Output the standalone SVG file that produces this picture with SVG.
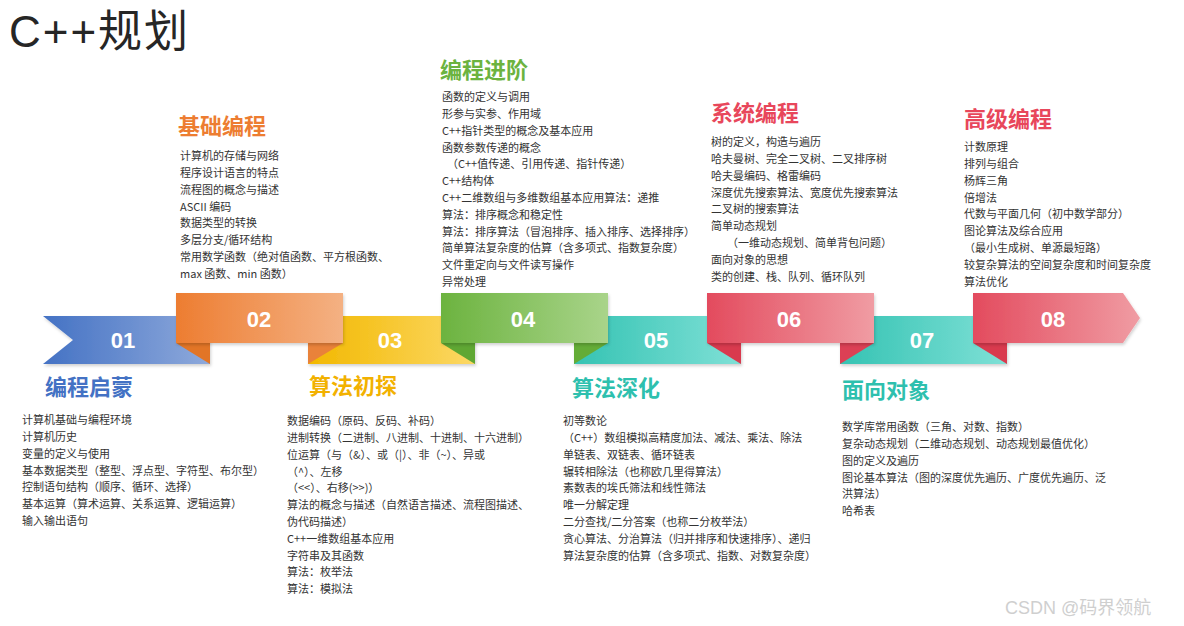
<svg xmlns="http://www.w3.org/2000/svg" width="1184" height="626" viewBox="0 0 1184 626">
<style>
.cjk{font-family:"Noto Sans CJK SC","Liberation Sans",sans-serif}
.body{font-family:"Noto Sans CJK SC","Liberation Sans",sans-serif;font-size:11px;fill:#333}
.ttl{font-family:"Noto Sans CJK SC",sans-serif;font-size:22px;font-weight:bold}
.num{font-family:"Liberation Sans","Noto Sans CJK SC",sans-serif;font-size:22px;font-weight:bold;fill:#fff;text-anchor:middle}
</style>
<defs>
<linearGradient id="gBlue" x1="0" x2="1" y1="0" y2="0"><stop offset="0" stop-color="#4472C4"/><stop offset="1" stop-color="#8EA9DB"/></linearGradient>
<linearGradient id="gOrange" x1="0" x2="1" y1="0" y2="0"><stop offset="0" stop-color="#ED7D31"/><stop offset="1" stop-color="#F4B183"/></linearGradient>
<linearGradient id="gYellow" x1="0" x2="1" y1="0" y2="0"><stop offset="0" stop-color="#F2B800"/><stop offset="1" stop-color="#FCD865"/></linearGradient>
<linearGradient id="gGreen" x1="0" x2="1" y1="0" y2="0"><stop offset="0" stop-color="#6CB33F"/><stop offset="1" stop-color="#A9D48A"/></linearGradient>
<linearGradient id="gTeal" x1="0" x2="1" y1="0" y2="0"><stop offset="0" stop-color="#35C3B3"/><stop offset="1" stop-color="#7FE0D6"/></linearGradient>
<linearGradient id="gRed" x1="0" x2="1" y1="0" y2="0"><stop offset="0" stop-color="#E34B5E"/><stop offset="1" stop-color="#F09CA3"/></linearGradient>
<filter id="sh" x="-10%" y="-20%" width="120%" height="150%"><feDropShadow dx="1" dy="2" stdDeviation="1.5" flood-color="#000" flood-opacity="0.18"/></filter>
</defs>
<rect width="1184" height="626" fill="#fff"/>
<text x="9" y="47" font-family="Liberation Sans,Noto Sans CJK SC,sans-serif" font-size="44" fill="#262626" textLength="179">C++规划</text>

<g id="connectors"></g>

<g id="stage-01">
<polygon points="43,316 210,316 210,364 43,364 73,340" fill="url(#gBlue)" filter="url(#sh)"/>
<text class="num" x="123" y="348">01</text>
<text class="ttl" x="45" y="395.4" fill="#4472C4">编程启蒙</text>
<text class="body" x="22" y="424.2"><tspan x="22">计算机基础与编程环境</tspan><tspan x="22" dy="16.8">计算机历史</tspan><tspan x="22" dy="16.8">变量的定义与使用</tspan><tspan x="22" dy="16.8">基本数据类型（整型、浮点型、字符型、布尔型）</tspan><tspan x="22" dy="16.8">控制语句结构（顺序、循环、选择）</tspan><tspan x="22" dy="16.8">基本运算（算术运算、关系运算、逻辑运算）</tspan><tspan x="22" dy="16.8">输入输出语句</tspan></text>
</g>

<g id="stage-03">
<rect x="308" y="316" width="167" height="48" fill="url(#gYellow)" filter="url(#sh)"/>
<text class="num" x="390" y="348">03</text>
<text class="ttl" x="309" y="394.4" fill="#F2B100">算法初探</text>
<text class="body" x="287" y="425.2"><tspan x="287">数据编码（原码、反码、补码）</tspan><tspan x="287" dy="16.8">进制转换（二进制、八进制、十进制、十六进制）</tspan><tspan x="287" dy="16.8">位运算（与（&amp;）、或（|）、非（~）、异或</tspan><tspan x="287" dy="16.8">（^）、左移</tspan><tspan x="287" dy="16.8">（&lt;&lt;）、右移(&gt;&gt;)）</tspan><tspan x="287" dy="16.8">算法的概念与描述（自然语言描述、流程图描述、</tspan><tspan x="287" dy="16.8">伪代码描述）</tspan><tspan x="287" dy="16.8">C++一维数组基本应用</tspan><tspan x="287" dy="16.8">字符串及其函数</tspan><tspan x="287" dy="16.8">算法：枚举法</tspan><tspan x="287" dy="16.8">算法：模拟法</tspan></text>
</g>

<g id="stage-05">
<rect x="574" y="316" width="167" height="48" fill="url(#gTeal)" filter="url(#sh)"/>
<text class="num" x="656" y="348">05</text>
<text class="ttl" x="572" y="396.4" fill="#2EC0AE">算法深化</text>
<text class="body" x="563" y="425.2"><tspan x="563">初等数论</tspan><tspan x="563" dy="16.8">（C++）数组模拟高精度加法、减法、乘法、除法</tspan><tspan x="563" dy="16.8">单链表、双链表、循环链表</tspan><tspan x="563" dy="16.8">辗转相除法（也称欧几里得算法）</tspan><tspan x="563" dy="16.8">素数表的埃氏筛法和线性筛法</tspan><tspan x="563" dy="16.8">唯一分解定理</tspan><tspan x="563" dy="16.8">二分查找/二分答案（也称二分枚举法）</tspan><tspan x="563" dy="16.8">贪心算法、分治算法（归并排序和快速排序）、递归</tspan><tspan x="563" dy="16.8">算法复杂度的估算（含多项式、指数、对数复杂度）</tspan></text>
</g>

<g id="stage-07">
<rect x="840" y="316" width="167" height="48" fill="url(#gTeal)" filter="url(#sh)"/>
<text class="num" x="922" y="348">07</text>
<text class="ttl" x="842" y="398.4" fill="#2EC0AE">面向对象</text>
<text class="body" x="842" y="431.2"><tspan x="842">数学库常用函数（三角、对数、指数）</tspan><tspan x="842" dy="16.8">复杂动态规划（二维动态规划、动态规划最值优化）</tspan><tspan x="842" dy="16.8">图的定义及遍历</tspan><tspan x="842" dy="16.8">图论基本算法（图的深度优先遍历、广度优先遍历、泛</tspan><tspan x="842" dy="16.8">洪算法）</tspan><tspan x="842" dy="16.8">哈希表</tspan></text>
</g>

<g id="stage-02">
<polygon points="176,343 210,343 210,364" fill="#E27526"/>
<polygon points="308,343 343,343 308,364" fill="#E9823A"/>
<rect x="176" y="293" width="167" height="50" fill="url(#gOrange)" filter="url(#sh)"/>
<text class="num" x="259" y="327">02</text>
<text class="ttl" x="178" y="134.4" fill="#ED7D31">基础编程</text>
<text class="body" x="180" y="160.2"><tspan x="180">计算机的存储与网络</tspan><tspan x="180" dy="16.8">程序设计语言的特点</tspan><tspan x="180" dy="16.8">流程图的概念与描述</tspan><tspan x="180" dy="16.8">ASCII 编码</tspan><tspan x="180" dy="16.8">数据类型的转换</tspan><tspan x="180" dy="16.8">多层分支/循环结构</tspan><tspan x="180" dy="16.8">常用数学函数（绝对值函数、平方根函数、</tspan><tspan x="180" dy="16.8">max 函数、min 函数）</tspan></text>
</g>

<g id="stage-04">
<polygon points="441,343 475,343 475,364" fill="#5FA733"/>
<polygon points="574,343 608,343 574,364" fill="#64AC37"/>
<rect x="441" y="293" width="167" height="50" fill="url(#gGreen)" filter="url(#sh)"/>
<text class="num" x="523" y="327">04</text>
<text class="ttl" x="440" y="78.4" fill="#6CB33F">编程进阶</text>
<text class="body" x="442" y="101.2"><tspan x="442">函数的定义与调用</tspan><tspan x="442" dy="16.8">形参与实参、作用域</tspan><tspan x="442" dy="16.8">C++指针类型的概念及基本应用</tspan><tspan x="442" dy="16.8">函数参数传递的概念</tspan><tspan x="447" dy="16.8">（C++值传递、引用传递、指针传递）</tspan><tspan x="442" dy="16.8">C++结构体</tspan><tspan x="442" dy="16.8">C++二维数组与多维数组基本应用算法：递推</tspan><tspan x="442" dy="16.8">算法：排序概念和稳定性</tspan><tspan x="442" dy="16.8">算法：排序算法（冒泡排序、插入排序、选择排序）</tspan><tspan x="442" dy="16.8">简单算法复杂度的估算（含多项式、指数复杂度）</tspan><tspan x="442" dy="16.8">文件重定向与文件读写操作</tspan><tspan x="442" dy="16.8">异常处理</tspan></text>
</g>

<g id="stage-06">
<polygon points="707,343 741,343 741,364" fill="#D93A4E"/>
<polygon points="840,343 874,343 840,364" fill="#DC4055"/>
<rect x="707" y="293" width="167" height="50" fill="url(#gRed)" filter="url(#sh)"/>
<text class="num" x="789" y="327">06</text>
<text class="ttl" x="711" y="121.4" fill="#E8475B">系统编程</text>
<text class="body" x="711" y="146.2"><tspan x="711">树的定义，构造与遍历</tspan><tspan x="711" dy="16.8">哈夫曼树、完全二叉树、二叉排序树</tspan><tspan x="711" dy="16.8">哈夫曼编码、格雷编码</tspan><tspan x="711" dy="16.8">深度优先搜索算法、宽度优先搜索算法</tspan><tspan x="711" dy="16.8">二叉树的搜索算法</tspan><tspan x="711" dy="16.8">简单动态规划</tspan><tspan x="727" dy="16.8">（一维动态规划、简单背包问题）</tspan><tspan x="711" dy="16.8">面向对象的思想</tspan><tspan x="711" dy="16.8">类的创建、栈、队列、循环队列</tspan></text>
</g>

<g id="stage-08">
<polygon points="973,343 1007,343 1007,364" fill="#D93A4E"/>
<polygon points="973,293 1123,293 1140,318 1123,343 973,343" fill="url(#gRed)" filter="url(#sh)"/>
<text class="num" x="1053" y="327">08</text>
<text class="ttl" x="964" y="127.4" fill="#E8475B">高级编程</text>
<text class="body" x="964" y="151.2"><tspan x="964">计数原理</tspan><tspan x="964" dy="16.8">排列与组合</tspan><tspan x="964" dy="16.8">杨辉三角</tspan><tspan x="964" dy="16.8">倍增法</tspan><tspan x="964" dy="16.8">代数与平面几何（初中数学部分）</tspan><tspan x="964" dy="16.8">图论算法及综合应用</tspan><tspan x="964" dy="16.8">（最小生成树、单源最短路）</tspan><tspan x="964" dy="16.8">较复杂算法的空间复杂度和时间复杂度</tspan><tspan x="964" dy="16.8">算法优化</tspan></text>
</g>

<text x="1005" y="614" font-family="Liberation Sans,Noto Sans CJK SC,sans-serif" font-size="18" fill="#CFCFCF">CSDN @码界领航</text>
</svg>
